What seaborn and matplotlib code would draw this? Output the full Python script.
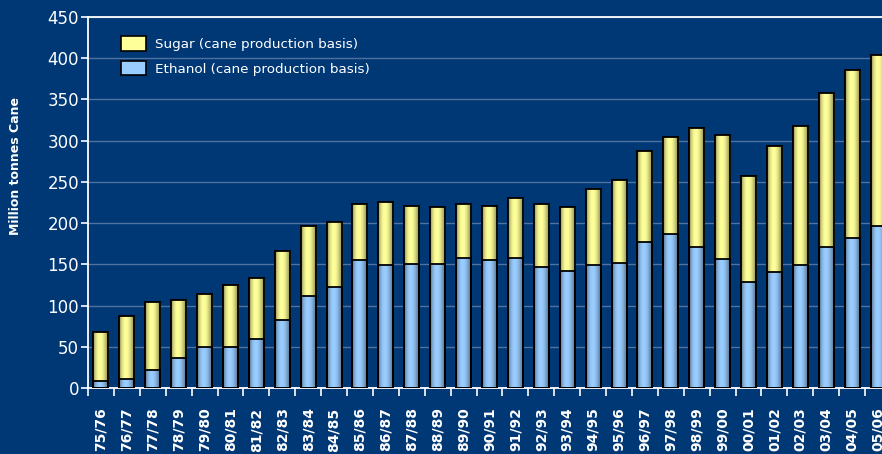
import numpy as np
import pandas as pd
import matplotlib
matplotlib.use("Agg")
import matplotlib.pyplot as plt
from matplotlib.colors import LinearSegmentedColormap
from matplotlib.patches import Patch
import seaborn as sns

seasons = ["75/76", "76/77", "77/78", "78/79", "79/80", "80/81", "81/82", "82/83",
           "83/84", "84/85", "85/86", "86/87", "87/88", "88/89", "89/90", "90/91",
           "91/92", "92/93", "93/94", "94/95", "95/96", "96/97", "97/98", "98/99",
           "99/00", "00/01", "01/02", "02/03", "03/04", "04/05", "05/06"]
ethanol = [8.5, 10.5, 21.5, 36.8, 49.7, 49.7, 59, 82.9,
           112, 123, 155.3, 148.8, 150.8, 150.8, 157.7, 155.3,
           157.7, 146.8, 142, 148.8, 151.2, 177.5, 186.4, 171,
           156, 129, 140.3, 148.8, 171, 182.3, 196.9]
total = [67.5, 87, 104.7, 106.7, 114, 124.5, 133, 166,
         197, 201.7, 223.6, 225.6, 221, 219.2, 223.6, 221,
         230, 223.6, 219.2, 241.2, 252.3, 287.5, 304.9, 315.8,
         307.3, 256.8, 293.5, 318.2, 357.8, 386.1, 404]
sugar = [t - e for t, e in zip(total, ethanol)]

df = pd.DataFrame({"season": seasons, "ethanol": ethanol, "sugar": sugar, "total": total})

BG = "#003775"
SUGAR = "#ffff99"
ETH = "#99ccff"
GRID = "#4f73a0"

sns.set_theme(style="dark")
plt.rcParams['font.family'] = ['DejaVu Sans']

fig = plt.figure(figsize=(8.82, 4.54), dpi=100, facecolor=BG)
ax = fig.add_axes([88 / 882, 66 / 454, 803 / 882, 371 / 454])
ax.set_facecolor(BG)

sns.barplot(data=df, x="season", y="total", color=SUGAR, saturation=1, width=0.58,
            edgecolor="black", linewidth=1.3, ax=ax, zorder=3)
sns.barplot(data=df, x="season", y="ethanol", color=ETH, saturation=1, width=0.58,
            edgecolor="black", linewidth=1.3, ax=ax, zorder=3)

# cylindrical shading on bars
def shade_cmap(base):
    c = np.array(matplotlib.colors.to_rgb(base))
    dark = c * 0.55
    return LinearSegmentedColormap.from_list(
        "s", [dark, c * 0.85, c, c, c * 0.9, c * 0.7, dark * 0.9],
    )

grad = np.linspace(0, 1, 64).reshape(1, -1)
n = len(seasons)
bars = list(ax.patches)
for i, p in enumerate(bars):
    base = SUGAR if i < n else ETH
    x0, y0 = p.get_x(), p.get_y()
    w, h = p.get_width(), p.get_height()
    im = ax.imshow(grad, cmap=shade_cmap(base), aspect="auto",
                   extent=(x0, x0 + w, y0, y0 + h), zorder=3.5,
                   interpolation="bicubic")
    im.set_clip_path(p)
for p in bars:
    r = plt.Rectangle((p.get_x(), p.get_y()), p.get_width(), p.get_height(),
                      fill=False, edgecolor="black", linewidth=1.3, zorder=4)
    ax.add_patch(r)

ax.set_xlim(-0.5, n - 0.5)
ax.set_ylim(0, 450)
ax.set_yticks(np.arange(0, 451, 50))
ax.yaxis.grid(True, color=GRID, linewidth=1.0, zorder=0)
ax.xaxis.grid(False)

for s in ["left", "bottom", "top"]:
    ax.spines[s].set_visible(True)
    ax.spines[s].set_color("white")
    ax.spines[s].set_linewidth(1.3)
ax.spines["right"].set_visible(False)

ax.tick_params(axis="y", colors="white", labelcolor="white", labelsize=12,
               length=5, width=1.2, direction="out", left=True, pad=1.5)
ax.set_xticks(range(n))
ax.set_xticklabels(seasons, rotation=90, fontsize=10, fontweight="bold", color="white")
ax.tick_params(axis="x", length=0, pad=14)
ax.set_xticks(np.arange(-0.5, n, 1), minor=True)
ax.tick_params(axis="x", which="minor", colors="white", length=6, width=1.2,
               direction="out", bottom=True)
for lab in ax.get_xticklabels():
    lab.set_verticalalignment("top")

ax.set_xlabel("")
ax.set_ylabel("Million tonnes Cane", color="white", fontsize=9, fontweight="bold")
ax.yaxis.set_label_coords(-0.082, 0.598)

handles = [Patch(facecolor=SUGAR, edgecolor="black", linewidth=1.2,
                 label="Sugar (cane production basis)"),
           Patch(facecolor=ETH, edgecolor="black", linewidth=1.2,
                 label="Ethanol (cane production basis)")]
leg = ax.legend(handles=handles, loc="upper left", bbox_to_anchor=(0.0411, 0.948),
                frameon=False, fontsize=9.7, labelcolor="white",
                handlelength=1.85, handleheight=1.25, handletextpad=0.65,
                labelspacing=0.75, borderpad=0, borderaxespad=0)

fig.savefig("out.png", dpi=100, facecolor=BG)
